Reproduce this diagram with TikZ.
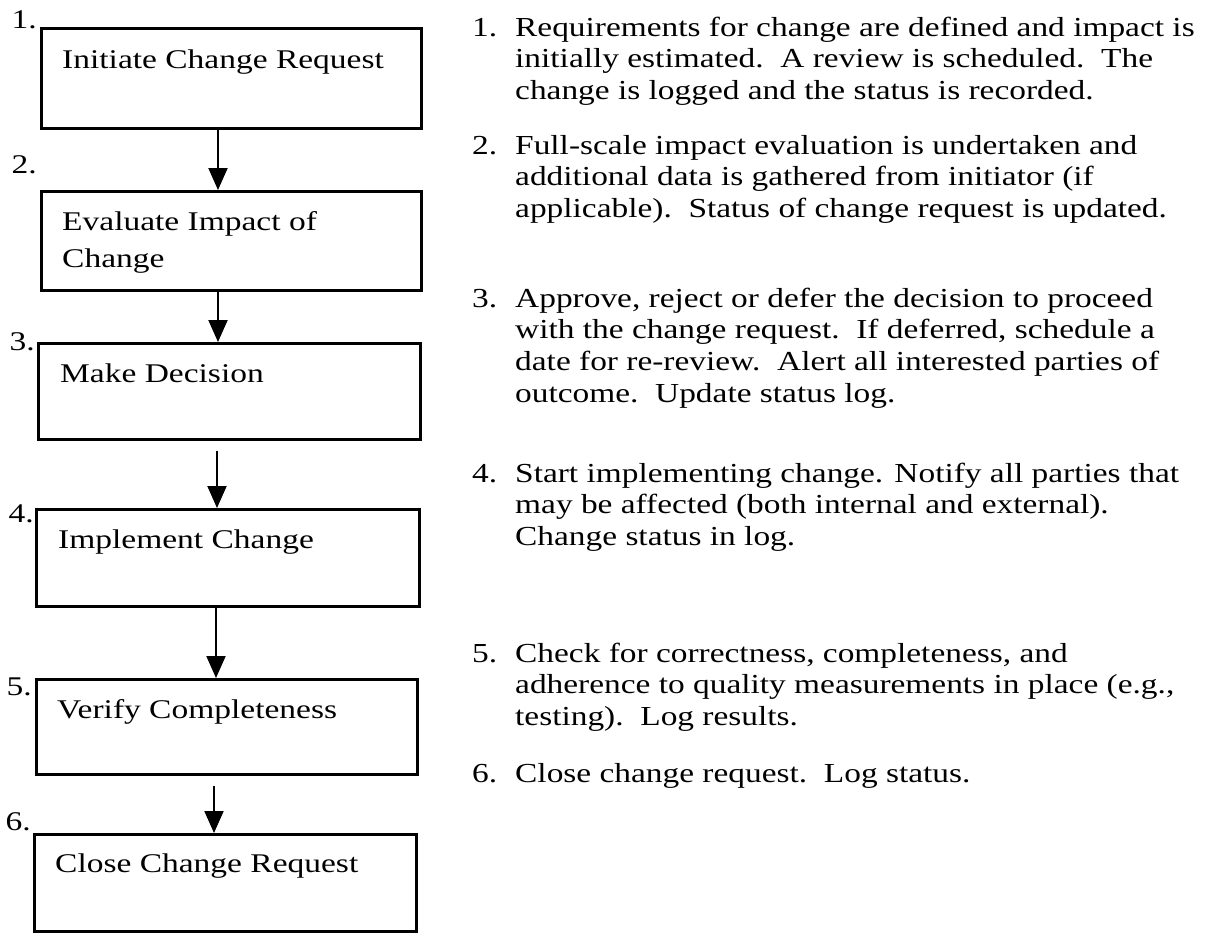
\documentclass[tikz,border=0pt]{standalone}
\usepackage{fontspec}
\setmainfont{Liberation Serif}
\newfontfamily\boxfont[FakeStretch=1.24]{Liberation Serif}
\newfontfamily\descfont[FakeStretch=1.214]{Liberation Serif}
\usetikzlibrary{arrows.meta}
\begin{document}
\begin{tikzpicture}[x=1pt,y=-1pt,
  stepbox/.style={draw, line width=2.6pt, inner sep=0pt, anchor=north west},
  boxtext/.style={anchor=base west, inner sep=0pt, font=\boxfont\fontsize{27}{37}\selectfont, align=left},
  stepnum/.style={anchor=base east, inner sep=0pt, font=\boxfont\fontsize{27}{30}\selectfont},
  desc/.style={anchor=base west, inner sep=0pt, font=\descfont\fontsize{27.5}{31.7}\selectfont, align=left},
  descnum/.style={anchor=base west, inner sep=0pt, font=\descfont\fontsize{27.5}{31.7}\selectfont},
  arr/.style={line width=2pt, -{Triangle[length=22pt,width=19pt]}}]
\useasboundingbox (0,0) rectangle (1205,932);

% flow boxes
\node[stepbox, minimum width=380pt, minimum height=100pt] (b1) at (40,27) {};
\node[stepbox, minimum width=380pt, minimum height=99pt] (b2) at (40,190) {};
\node[stepbox, minimum width=382pt, minimum height=96pt] (b3) at (37,342) {};
\node[stepbox, minimum width=383pt, minimum height=97pt] (b4) at (35,508) {};
\node[stepbox, minimum width=381pt, minimum height=95pt] (b5) at (35,678) {};
\node[stepbox, minimum width=382pt, minimum height=97pt] (b6) at (33,833) {};

% box labels (anchored at the baseline of the last line)
\node[boxtext] (l1) at (62,68) {Initiate Change Request};
\node[boxtext] (l2) at (62,267) {Evaluate Impact of\\Change};
\node[boxtext] (l3) at (60,382) {Make Decision};
\node[boxtext] (l4) at (58,548) {Implement Change};
\node[boxtext] (l5) at (57,718) {Verify Completeness};
\node[boxtext] (l6) at (55,872) {Close Change Request};

% step numbers
\node[stepnum] (n1) at (37,28) {1.};
\node[stepnum] (n2) at (37,173) {2.};
\node[stepnum] (n3) at (35,350) {3.};
\node[stepnum] (n4) at (34,522) {4.};
\node[stepnum] (n5) at (32,695) {5.};
\node[stepnum] (n6) at (31,830) {6.};

% connectors
\draw[arr] (b1.south -| 218,0) -- (b2.north -| 218,0);
\draw[arr] (b2.south -| 218,0) -- (b3.north -| 218,0);
\draw[arr, shorten <=10pt] (b3.south -| 217,0) -- (b4.north -| 217,0);
\draw[arr] (b4.south -| 216,0) -- (b5.north -| 216,0);
\draw[arr, shorten <=10pt] (b5.south -| 214,0) -- (b6.north -| 214,0);

% descriptions (anchored at the baseline of the last line)
\node[descnum] (d1n) at (472,36) {1.};
\node[desc] (d1) at (515,99.4) {Requirements for change are defined and impact is\\initially estimated.\ \ A review is scheduled.\ \ The\\change is logged and the status is recorded.};
\node[descnum] (d2n) at (472,154) {2.};
\node[desc] (d2) at (515,217.4) {Full-scale impact evaluation is undertaken and\\additional data is gathered from initiator (if\\applicable).\ \ Status of change request is updated.};
\node[descnum] (d3n) at (472,307) {3.};
\node[desc] (d3) at (515,402.1) {Approve, reject or defer the decision to proceed\\with the change request.\ \ If deferred, schedule a\\date for re-review.\ \ Alert all interested parties of\\outcome.\ \ Update status log.};
\node[descnum] (d4n) at (472,482) {4.};
\node[desc] (d4) at (515,545.4) {Start implementing change. Notify all parties that\\may be affected (both internal and external).\\Change status in log.};
\node[descnum] (d5n) at (472,662) {5.};
\node[desc] (d5) at (515,725.4) {Check for correctness, completeness, and\\adherence to quality measurements in place (e.g.,\\testing).\ \ Log results.};
\node[descnum] (d6n) at (472,782) {6.};
\node[desc] (d6) at (515,782) {Close change request.\ \ Log status.};
\end{tikzpicture}
\end{document}
